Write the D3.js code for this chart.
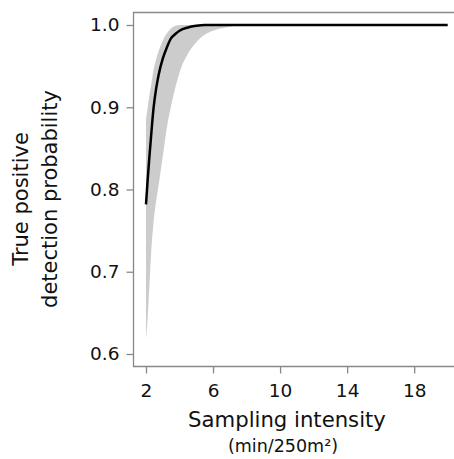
<!DOCTYPE html>
<html><head><meta charset="utf-8">
<script src="https://cdn.jsdelivr.net/npm/d3@7"></script>
<style>body{margin:0;background:#fff}svg{display:block}</style>
</head><body>
<script>
const xs    = [2, 2.1, 2.2, 2.3, 2.45, 2.6, 2.75, 3.0, 3.25, 3.5, 3.75, 4.0, 4.5, 5.0, 5.5, 6.0, 6.5, 7.0, 7.5, 8, 10, 12, 14, 16, 18, 20];
const mean  = [0.782, 0.812, 0.839, 0.864, 0.899, 0.922, 0.939, 0.959, 0.973, 0.984, 0.989, 0.993, 0.997, 0.999, 1.0, 1.0, 1.0, 1.0, 1.0, 1.0, 1.0, 1.0, 1.0, 1.0, 1.0, 1.0];
const lower = [0.618, 0.645, 0.682, 0.720, 0.760, 0.785, 0.805, 0.840, 0.876, 0.902, 0.924, 0.942, 0.965, 0.979, 0.988, 0.993, 0.996, 0.998, 0.9995, 1.0, 1.0, 1.0, 1.0, 1.0, 1.0, 1.0];
const upper = [0.885, 0.900, 0.914, 0.926, 0.945, 0.958, 0.968, 0.981, 0.990, 0.996, 0.999, 1.0, 1.0, 1.0, 1.0, 1.0, 1.0, 1.0, 1.0, 1.0, 1.0, 1.0, 1.0, 1.0, 1.0, 1.0];
const xTicks = [2, 6, 10, 14, 18];
const yTicks = [0.6, 0.7, 0.8, 0.9, 1.0];

const W = 454, H = 459;
const svg = d3.select("body").append("svg").attr("width", W).attr("height", H);
const x = d3.scaleLinear().domain([2, 20]).range([146, 447.7]);
const y = d3.scaleLinear().domain([0.6, 1.0]).range([354, 25]);
const frameL = 133.5, frameT = 12.5, frameB = 366.5;
const font = "DejaVu Sans, Verdana, sans-serif";
const data = xs.map((v, i) => ({x: v, m: mean[i], lo: lower[i], hi: upper[i]}));

svg.append("path").datum(data)
  .attr("d", d3.area().x(d => x(d.x)).y0(d => y(d.lo)).y1(d => y(d.hi)).curve(d3.curveMonotoneX))
  .attr("fill", "#cccccc");
svg.append("path").datum(data)
  .attr("d", d3.line().x(d => x(d.x)).y(d => y(d.m)).curve(d3.curveMonotoneX))
  .attr("fill", "none").attr("stroke", "#000").attr("stroke-width", 2.5);

// frame (no right border)
svg.append("path").attr("d", `M${W+2},${frameT}H${frameL}V${frameB}H${W+2}`)
  .attr("fill", "none").attr("stroke", "#888").attr("stroke-width", 1.3);

const xAxis = svg.append("g").attr("transform", `translate(0,${frameB})`)
  .call(d3.axisBottom(x).tickValues(xTicks).tickSize(7).tickPadding(10).tickFormat(d3.format("d")));
const yAxis = svg.append("g").attr("transform", `translate(${frameL},0)`)
  .call(d3.axisLeft(y).tickValues(yTicks).tickSize(7).tickPadding(7).tickFormat(d3.format(".1f")));
[xAxis, yAxis].forEach(g => {
  g.select(".domain").remove();
  g.selectAll(".tick line").attr("stroke", "#888").attr("stroke-width", 1.3);
  g.selectAll(".tick text").attr("fill", "#111").style("font-family", font).style("font-size", "18.5px");
});

svg.append("text").attr("x", 287).attr("y", 427).attr("text-anchor", "middle")
  .style("font-family", font).style("font-size", "21.2px").attr("fill", "#111").text("Sampling intensity");
svg.append("text").attr("x", 283).attr("y", 452).attr("text-anchor", "middle")
  .style("font-family", font).style("font-size", "17.5px").attr("fill", "#111").text("(min/250m²)");

const yl = svg.append("text").attr("transform", "translate(0,199) rotate(-90)")
  .attr("text-anchor", "middle").style("font-family", font).style("font-size", "21px").attr("fill", "#111");
yl.append("tspan").attr("x", 0).attr("y", 28).text("True positive");
yl.append("tspan").attr("x", 0).attr("y", 57).text("detection probability");
</script>
</body></html>
